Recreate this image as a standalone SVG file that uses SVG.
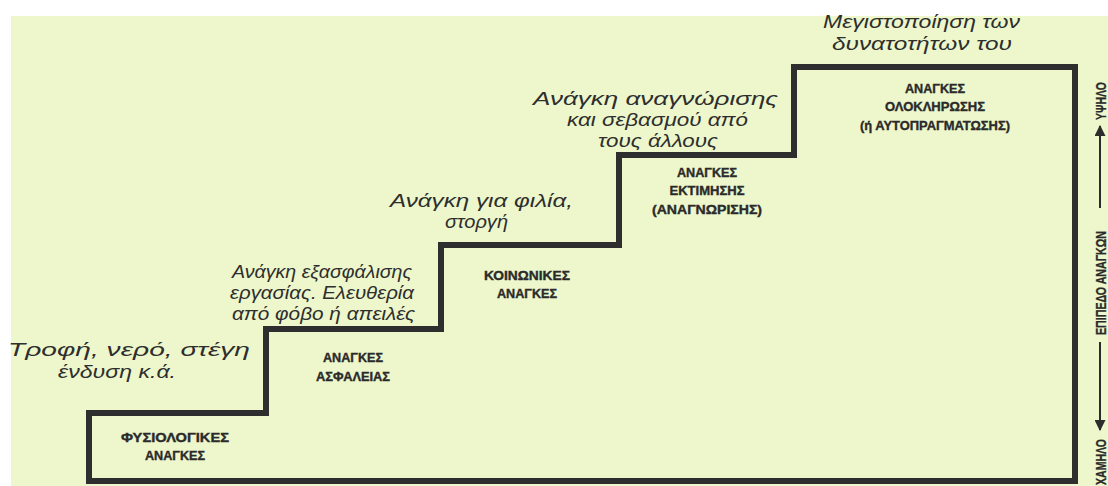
<svg xmlns="http://www.w3.org/2000/svg" width="1108" height="486" viewBox="0 0 1108 486">
<defs>
<style>
.lbl{font-family:"Liberation Sans","Arial",sans-serif;font-style:italic;font-size:18px;fill:#2e2e2e;}
.cap{font-family:"Liberation Sans","Arial",sans-serif;font-weight:bold;font-size:12.5px;fill:#2a2a2a;text-anchor:middle;stroke:#2a2a2a;stroke-width:0.35;}
.side{font-family:"Liberation Sans","Arial",sans-serif;font-weight:bold;font-size:15px;fill:#2a2a2a;text-anchor:middle;stroke:#2a2a2a;stroke-width:0.3;}
.stair{fill:none;stroke:#2e2e2e;stroke-width:6;stroke-linejoin:miter;}
.axis{stroke:#2c2c2c;stroke-width:2;fill:none;}
</style>
<marker id="ah" viewBox="0 0 10 10" refX="9" refY="5" markerWidth="5.5" markerHeight="5.5" orient="auto" markerUnits="strokeWidth">
<path d="M0,0 L10,5 L0,10 z" fill="#2c2c2c"/>
</marker>
</defs>
<rect x="0" y="0" width="1108" height="486" fill="#ffffff"/>
<rect x="11" y="16" width="1097" height="470" fill="#edf7cb"/>

<g id="connectors">
<path class="stair" d="M89,481 L89,413 L266,413 L266,329 L441,329 L441,245 L619,245 L619,155 L794,155 L794,67 L1075,67 L1075,481 Z"/>
<line class="axis" x1="1100" y1="208" x2="1100" y2="126" marker-end="url(#ah)"/>
<line class="axis" x1="1100" y1="342" x2="1100" y2="430" marker-end="url(#ah)"/>
</g>

<g id="level1">
<text class="lbl" x="8" y="356" textLength="242" lengthAdjust="spacingAndGlyphs">Τροφή, νερό, στέγη</text>
<text class="lbl" x="58" y="378" textLength="118" lengthAdjust="spacingAndGlyphs">ένδυση κ.ά.</text>
<text class="cap" x="175" y="442" textLength="108" lengthAdjust="spacingAndGlyphs">ΦΥΣΙΟΛΟΓΙΚΕΣ</text>
<text class="cap" x="175" y="460" textLength="60" lengthAdjust="spacingAndGlyphs">ΑΝΑΓΚΕΣ</text>
</g>

<g id="level2">
<text class="lbl" x="232" y="278" textLength="180" lengthAdjust="spacingAndGlyphs">Ανάγκη εξασφάλισης</text>
<text class="lbl" x="230" y="299" textLength="184" lengthAdjust="spacingAndGlyphs">εργασίας. Ελευθερία</text>
<text class="lbl" x="232" y="320" textLength="183" lengthAdjust="spacingAndGlyphs">από φόβο ή απειλές</text>
<text class="cap" x="353" y="362" textLength="60" lengthAdjust="spacingAndGlyphs">ΑΝΑΓΚΕΣ</text>
<text class="cap" x="353" y="381" textLength="74" lengthAdjust="spacingAndGlyphs">ΑΣΦΑΛΕΙΑΣ</text>
</g>

<g id="level3">
<text class="lbl" x="390" y="207" textLength="183" lengthAdjust="spacingAndGlyphs">Ανάγκη για φιλία,</text>
<text class="lbl" x="445" y="228" textLength="63" lengthAdjust="spacingAndGlyphs">στοργή</text>
<text class="cap" x="527" y="280" textLength="86" lengthAdjust="spacingAndGlyphs">ΚΟΙΝΩΝΙΚΕΣ</text>
<text class="cap" x="527" y="298" textLength="60" lengthAdjust="spacingAndGlyphs">ΑΝΑΓΚΕΣ</text>
</g>

<g id="level4">
<text class="lbl" x="533" y="105" textLength="245" lengthAdjust="spacingAndGlyphs">Ανάγκη αναγνώρισης</text>
<text class="lbl" x="567" y="126" textLength="181" lengthAdjust="spacingAndGlyphs">και σεβασμού από</text>
<text class="lbl" x="598" y="147" textLength="120" lengthAdjust="spacingAndGlyphs">τους άλλους</text>
<text class="cap" x="707" y="177" textLength="60" lengthAdjust="spacingAndGlyphs">ΑΝΑΓΚΕΣ</text>
<text class="cap" x="707" y="195" textLength="75" lengthAdjust="spacingAndGlyphs">ΕΚΤΙΜΗΣΗΣ</text>
<text class="cap" x="707" y="214" textLength="110" lengthAdjust="spacingAndGlyphs">(ΑΝΑΓΝΩΡΙΣΗΣ)</text>
</g>

<g id="level5">
<text class="lbl" x="823" y="28" textLength="197" lengthAdjust="spacingAndGlyphs">Μεγιστοποίηση των</text>
<text class="lbl" x="832" y="50" textLength="180" lengthAdjust="spacingAndGlyphs">δυνατοτήτων του</text>
<text class="cap" x="935" y="93" textLength="60" lengthAdjust="spacingAndGlyphs">ΑΝΑΓΚΕΣ</text>
<text class="cap" x="935" y="111" textLength="100" lengthAdjust="spacingAndGlyphs">ΟΛΟΚΛΗΡΩΣΗΣ</text>
<text class="cap" x="935" y="130" textLength="150" lengthAdjust="spacingAndGlyphs">(ή ΑΥΤΟΠΡΑΓΜΑΤΩΣΗΣ)</text>
</g>

<g id="axis-labels">
<text class="side" transform="translate(1106,101) rotate(-90)" textLength="38" lengthAdjust="spacingAndGlyphs">ΥΨΗΛΟ</text>
<text class="side" transform="translate(1106,283) rotate(-90)" textLength="104" lengthAdjust="spacingAndGlyphs">ΕΠΙΠΕΔΟ ΑΝΑΓΚΩΝ</text>
<text class="side" transform="translate(1106,462) rotate(-90)" textLength="46" lengthAdjust="spacingAndGlyphs">ΧΑΜΗΛΟ</text>
</g>
</svg>
